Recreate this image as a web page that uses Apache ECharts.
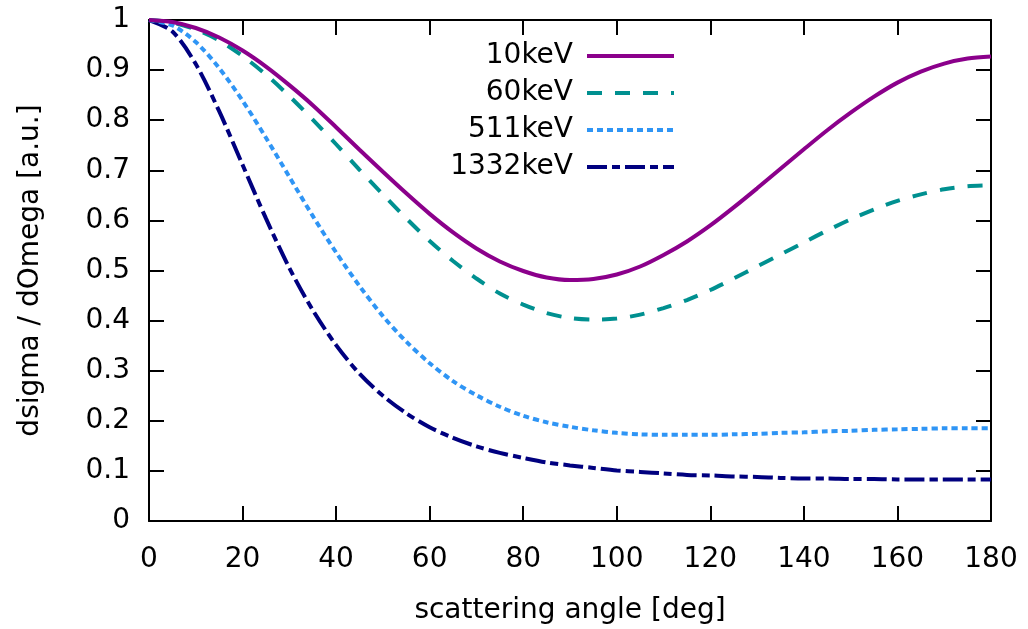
<!DOCTYPE html>
<html>
<head>
<meta charset="utf-8">
<script src="https://cdn.jsdelivr.net/npm/echarts@6/dist/echarts.min.js"></script>
<style>
  html, body { margin: 0; padding: 0; background: #fff; }
  #chart { width: 1028px; height: 629px; }
</style>
</head>
<body>
<div id="chart"></div>
<script>
// Scattering angle in degrees, sampled every 5 degrees
const angles = [0, 5, 10, 15, 20, 25, 30, 35, 40, 45, 50, 55, 60, 65, 70, 75, 80, 85, 90,
  95, 100, 105, 110, 115, 120, 125, 130, 135, 140, 145, 150, 155, 160, 165, 170, 175, 180];

// Relative differential cross-section for each photon energy
const kev10 = [1.000, 0.996, 0.984, 0.965, 0.939, 0.907, 0.870, 0.830, 0.786, 0.741, 0.697,
  0.654, 0.613, 0.576, 0.544, 0.518, 0.499, 0.486, 0.481, 0.483, 0.492, 0.508, 0.531, 0.558,
  0.590, 0.626, 0.664, 0.703, 0.742, 0.780, 0.815, 0.847, 0.875, 0.897, 0.913, 0.923, 0.927];
const kev60 = [1.000, 0.995, 0.981, 0.959, 0.928, 0.891, 0.848, 0.801, 0.752, 0.701, 0.652,
  0.604, 0.559, 0.519, 0.484, 0.454, 0.432, 0.415, 0.405, 0.402, 0.404, 0.412, 0.425, 0.441,
  0.461, 0.484, 0.508, 0.532, 0.556, 0.580, 0.602, 0.622, 0.639, 0.652, 0.662, 0.668, 0.670];
const kev511 = [1.000, 0.989, 0.956, 0.904, 0.839, 0.765, 0.687, 0.609, 0.536, 0.469, 0.409,
  0.358, 0.315, 0.279, 0.251, 0.228, 0.210, 0.197, 0.188, 0.181, 0.176, 0.173, 0.172, 0.172,
  0.172, 0.173, 0.174, 0.176, 0.177, 0.179, 0.180, 0.182, 0.183, 0.184, 0.185, 0.185, 0.185];
const kev1332 = [1.000, 0.977, 0.912, 0.818, 0.711, 0.604, 0.505, 0.421, 0.351, 0.294, 0.250,
  0.215, 0.187, 0.166, 0.149, 0.136, 0.126, 0.117, 0.111, 0.106, 0.101, 0.098, 0.095, 0.092,
  0.091, 0.089, 0.088, 0.086, 0.085, 0.085, 0.084, 0.084, 0.083, 0.083, 0.083, 0.083, 0.083];

const seriesNames = ['10keV', '60keV', '511keV', '1332keV'];
const seriesColors = ['#8b008b', '#009090', '#2f95f5', '#00007f'];
const seriesDashes = ['solid', [15, 13], [6, 4], [20, 5, 8, 5]];
const seriesValues = [kev10, kev60, kev511, kev1332];

const FONT = 'DejaVu Sans';
const chart = echarts.init(document.getElementById('chart'), null, { renderer: 'canvas' });

function frameAxis(extra) {
  return Object.assign({
    type: 'value',
    axisLine: { show: true, onZero: false, lineStyle: { color: '#000', width: 2 } },
    axisTick: { show: true, inside: true, length: 15, lineStyle: { color: '#000', width: 2 } },
    splitLine: { show: false },
    axisLabel: { show: false }
  }, extra);
}

const labelStyle = { color: '#000', fontFamily: FONT, fontSize: 28 };

chart.setOption({
  animation: false,
  backgroundColor: '#fff',
  grid: {
    left: 149, top: 20, width: 842, height: 501,
    containLabel: false, outerBoundsMode: 'none'
  },
  xAxis: [
    frameAxis({
      position: 'bottom', min: 0, max: 180, interval: 20,
      axisLabel: Object.assign({ show: true, margin: 25 }, labelStyle),
      name: 'scattering angle [deg]', nameLocation: 'middle', nameGap: 76,
      nameTextStyle: labelStyle
    }),
    frameAxis({ position: 'top', min: 0, max: 180, interval: 20 })
  ],
  yAxis: [
    frameAxis({
      position: 'left', min: 0, max: 1, interval: 0.1,
      axisLabel: Object.assign({ show: true, margin: 19 }, labelStyle),
      name: 'dsigma / dOmega [a.u.]', nameLocation: 'middle', nameGap: 104,
      nameTextStyle: labelStyle
    }),
    frameAxis({ position: 'right', min: 0, max: 1, interval: 0.1 })
  ],
  legend: {
    orient: 'vertical',
    align: 'right',
    right: 347,
    top: 35,
    itemWidth: 87,
    itemHeight: 14,
    itemGap: 5,
    textStyle: Object.assign({ lineHeight: 32, padding: [0, 9, 0, 0] }, labelStyle),
    itemStyle: { opacity: 0 },
    lineStyle: { width: 4 },
    data: seriesNames
  },
  series: seriesNames.map((name, i) => ({
    name: name,
    type: 'line',
    xAxisIndex: 0,
    yAxisIndex: 0,
    data: angles.map((a, j) => [a, seriesValues[i][j]]),
    smooth: 0.3,
    showSymbol: false,
    symbol: 'none',
    clip: false,
    lineStyle: { color: seriesColors[i], width: 4, type: seriesDashes[i], cap: 'butt' },
    itemStyle: { color: seriesColors[i] },
    z: 10 - i
  }))
});
</script>
</body>
</html>
